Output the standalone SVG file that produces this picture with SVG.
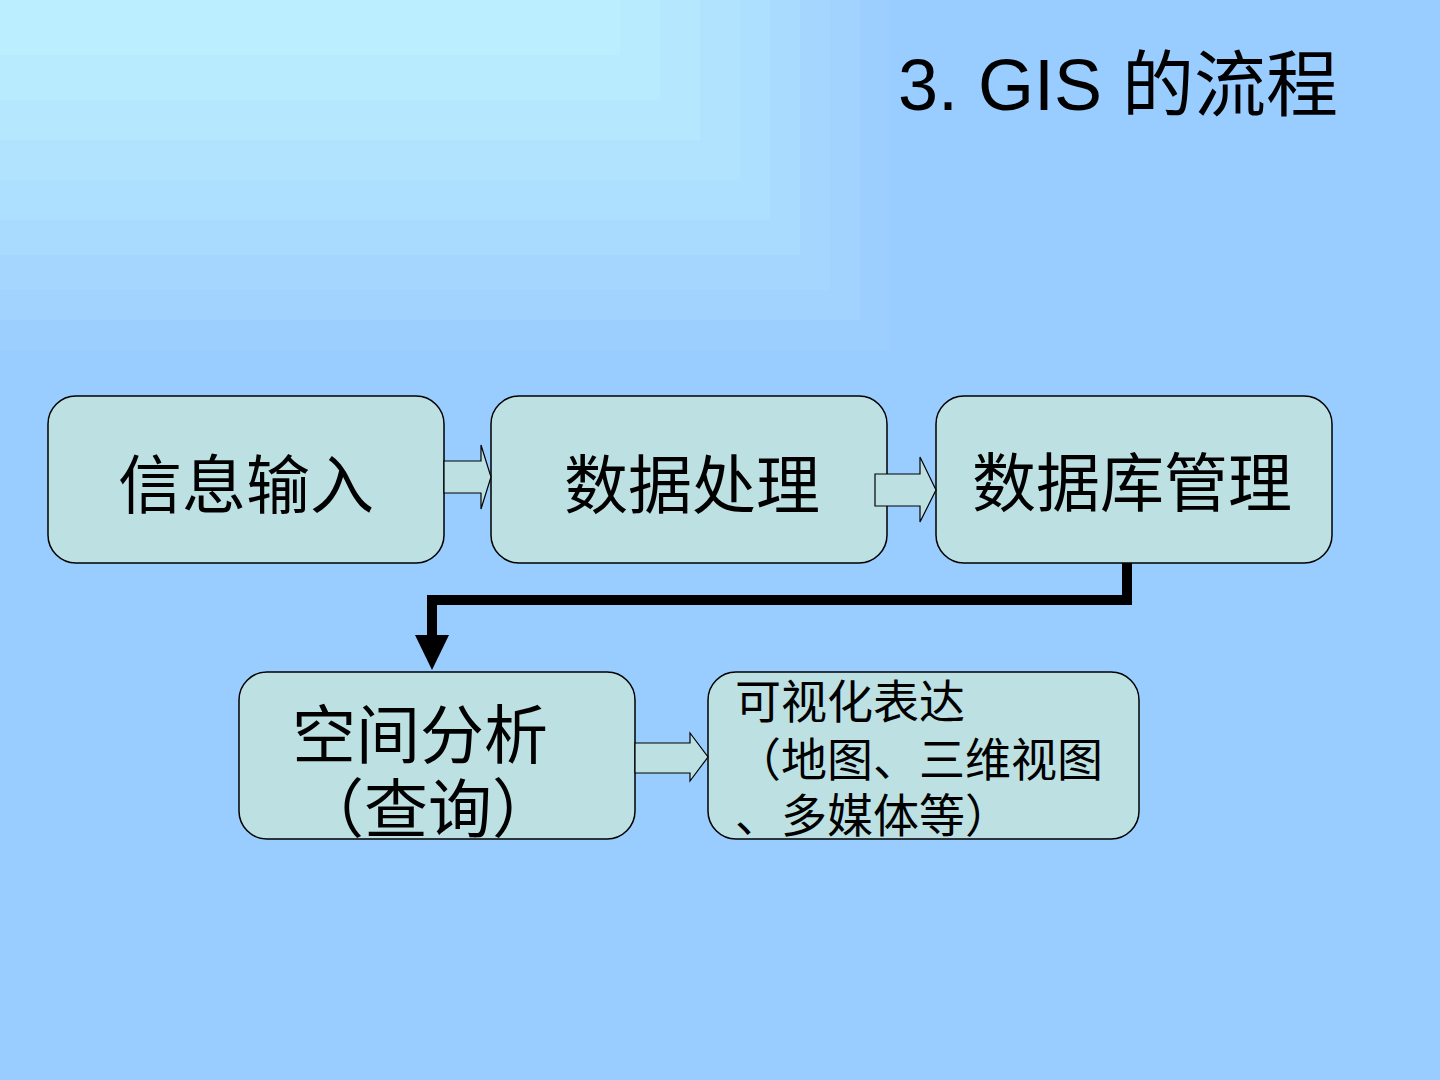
<svg xmlns="http://www.w3.org/2000/svg" width="1440" height="1080" viewBox="0 0 1440 1080">
<style>
.box{fill:#bde1e3;stroke:#000;stroke-width:1.5}
.blk{fill:#bde1e3;stroke:#000;stroke-width:1.2}
text{font-family:"Liberation Sans","Noto Sans CJK SC",sans-serif;fill:#000}
.big{font-size:64px}
.sm{font-size:46px}
</style>
<rect width="1440" height="1080" fill="#99ccff"/>
<g id="bg">
<rect width="890" height="350" fill="#9dcffe"/>
<rect width="860" height="320" fill="#a1d3fe"/>
<rect width="830" height="290" fill="#a5d7fe"/>
<rect width="800" height="255" fill="#a9dbfe"/>
<rect width="770" height="220" fill="#addffe"/>
<rect width="740" height="180" fill="#b1e3fe"/>
<rect width="700" height="140" fill="#b5e7fe"/>
<rect width="660" height="100" fill="#b8ebfe"/>
<rect width="620" height="55" fill="#bbeeff"/>
</g>
<text x="898" y="110" font-size="72">3. GIS 的流程</text>
<g id="n1"><rect class="box" x="48" y="396" width="396" height="167" rx="28"/><text class="big" x="246" y="508" text-anchor="middle">信息输入</text></g>
<g id="n2"><rect class="box" x="491" y="396" width="396" height="167" rx="28"/><text class="big" x="692" y="508" text-anchor="middle">数据处理</text></g>
<g id="n3"><rect class="box" x="936" y="396" width="396" height="167" rx="28"/><text class="big" x="1132" y="506" text-anchor="middle">数据库管理</text></g>
<g id="n4"><rect class="box" x="239" y="672" width="396" height="167" rx="28"/><text class="big" x="292" y="758">空间分析</text><text class="big" x="300" y="832">（查询）</text></g>
<g id="n5"><rect class="box" x="708" y="672" width="431" height="167" rx="28"/><text class="sm" x="735" y="718">可视化表达</text><text class="sm" x="735" y="776">（地图、三维视图</text><text class="sm" x="735" y="832">、多媒体等）</text></g>
<g id="connectors">
<polygon class="blk" points="444,461 481,461 481,445 491,477 481,509 481,493 444,493"/>
<polygon class="blk" points="875,474 920,474 920,457 936,490 920,522 920,506 875,506"/>
<polygon class="blk" points="635,743 690,743 690,733 708,757 690,781 690,773 635,773"/>
<polyline points="1127,563 1127,600 432,600 432,640" fill="none" stroke="#000" stroke-width="10"/>
<polygon points="415,635 449,635 432,670" fill="#000"/>
</g>
</svg>
